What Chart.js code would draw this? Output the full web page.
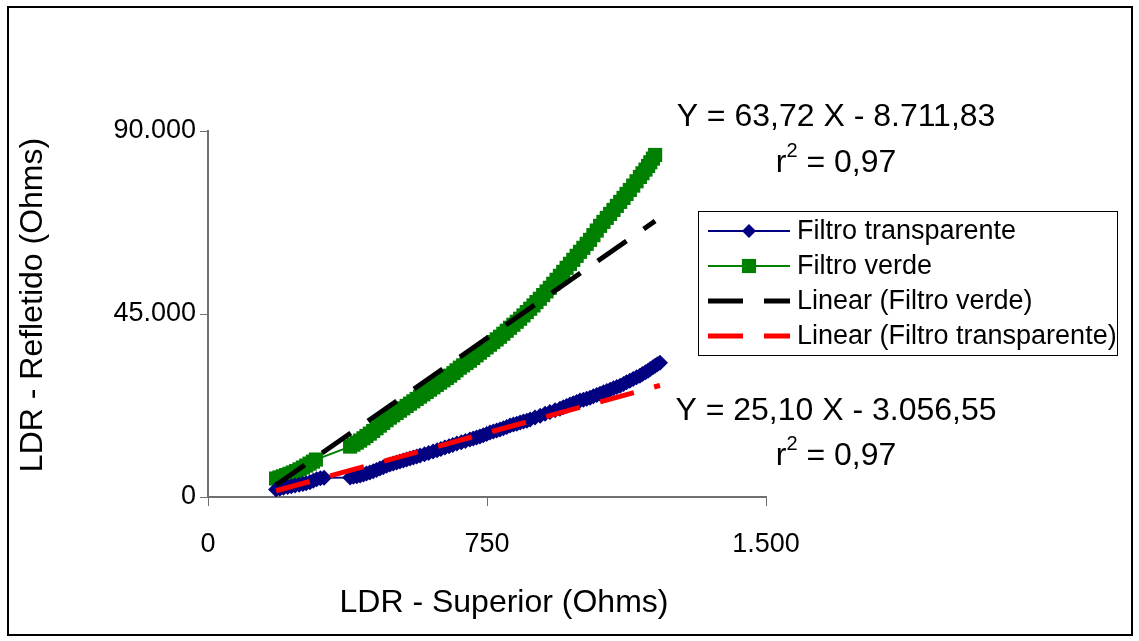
<!DOCTYPE html>
<html>
<head>
<meta charset="utf-8">
<script src="https://cdn.jsdelivr.net/npm/chart.js@4.4.1/dist/chart.umd.min.js"></script>
<style>
    html, body { margin: 0; padding: 0; background: #ffffff; }
    canvas { display: block; }
</style>
</head>
<body>
<canvas id="ldrChart" width="1139" height="641"></canvas>
<script>
// LDR - Superior (Ohms) / LDR - Refletido (Ohms)
var transpX = [183, 193, 203, 214, 224, 234, 245, 255, 264, 274, 283, 292, 302, 312,
    382, 391, 400, 409, 418, 426, 435, 444, 453, 462, 471, 480, 489, 498, 507, 516, 525, 534, 543,
    552, 561, 570, 582, 593, 605, 616, 626, 637, 648, 658, 669, 681, 692, 704, 713, 722, 731,
    740, 749, 758, 767, 776, 785, 794, 803, 812, 821, 830, 839, 848, 857, 866, 879, 893, 906,
    919, 933, 946, 955, 964, 973, 982, 991, 1000, 1009, 1018, 1027, 1036, 1045, 1054, 1063,
    1072, 1081, 1090, 1099, 1108, 1117, 1125, 1134, 1143, 1152, 1161, 1168, 1176, 1183, 1189,
    1196, 1202, 1208, 1215];
var transpY = [1840, 2050, 2250, 2450, 2640, 2820, 3020, 3210, 3400, 3650, 3980, 4350, 4600, 4760,
    4790, 4950, 5120, 5300, 5530, 5760, 6020, 6330, 6660, 7000, 7330, 7660, 7980, 8240, 8480, 8720, 8960, 9210, 9450,
    9700, 9940, 10190, 10530, 10840, 11170, 11510, 11830, 12160, 12490, 12810, 13140, 13470, 13800, 14120, 14370, 14610, 14860,
    15190, 15510, 15840, 16090, 16330, 16580, 16910, 17240, 17560, 17800, 18040, 18290, 18540, 18780, 19030, 19520, 20010, 20500,
    20910, 21320, 21730, 22060, 22390, 22720, 23050, 23380, 23700, 23940, 24190, 24430, 24760, 25090, 25420, 25750,
    26070, 26400, 26730, 27060, 27380, 27790, 28200, 28610, 29020, 29430, 29840, 30250, 30650, 31060, 31470,
    31880, 32290, 32660, 33030];

var verdeX = [183, 192, 201, 210, 219, 228, 237, 246, 255, 264, 273, 282, 290,
    382, 391, 400, 409, 418, 426, 435, 444, 453, 462, 471, 480, 489, 498, 507, 516, 525, 534, 543,
    552, 561, 570, 579, 588, 597, 606, 615, 624, 633, 642, 651, 660, 668, 677, 686, 695, 704,
    713, 722, 731, 740, 749, 758, 767, 776, 785, 794, 803, 812, 821, 830, 839, 848, 857, 866,
    875, 883, 892, 901, 910, 919, 928, 937, 946, 955, 964, 973, 982, 991, 1000, 1009, 1018, 1027,
    1036, 1045, 1054, 1063, 1072, 1081, 1090, 1099, 1108, 1117, 1125, 1134, 1143, 1152, 1161,
    1168, 1176, 1183, 1189, 1196, 1202];
var verdeY = [4540, 4800, 5080, 5380, 5700, 6030, 6380, 6800, 7250, 7720, 8200, 8700, 9210,
    12400, 12870, 13370, 13870, 14440, 15010, 15590, 16240, 16900, 17560, 18210, 18870, 19520, 20090, 20670, 21240, 21810, 22390, 22960,
    23530, 24110, 24680, 25250, 25830, 26400, 26970, 27550, 28120, 28690, 29270, 29840, 30490, 31150, 31800, 32370, 32950, 33520,
    34180, 34830, 35490, 36140, 36800, 37450, 38100, 38760, 39410, 40150, 40880, 41620, 42360, 43090, 43830, 44650, 45470, 46290,
    47110, 47930, 48750, 49650, 50550, 51450, 52430, 53410, 54390, 55370, 56360, 57340, 58320, 59310, 60290, 61270, 62250, 63230,
    64380, 65520, 66670, 67650, 68640, 69620, 70600, 71590, 72570, 73550, 74530, 75510, 76570, 77640, 78700,
    79600, 80510, 81410, 82310, 83210, 84110];

var xTicks = [0, 750, 1500];
var yTicks = [0, 45000, 90000];

// linear trendlines as printed on the chart
var trendVerde = [63.72, -8711.83, 0.97];
var trendTransp = [25.10, -3056.55, 0.97];

var xTitle = 'LDR - Superior (Ohms)';
var yTitle = 'LDR - Refletido (Ohms)';

var fontFamily = '"Liberation Sans", Arial, sans-serif';

function toPoints(xs, ys) {
    return xs.map(function (x, i) { return { x: x, y: ys[i] }; });
}

function trendPoints(xs, coef) {
    var x0 = Math.min.apply(null, xs);
    var x1 = Math.max.apply(null, xs);
    return [{ x: x0, y: coef[0] * x0 + coef[1] }, { x: x1, y: coef[0] * x1 + coef[1] }];
}

// 1234567.8 -> "1.234.567,80"
function fmtBR(v, dec) {
    var parts = Math.abs(v).toFixed(dec).split('.');
    var s = parts[0].replace(/\B(?=(\d{3})+(?!\d))/g, '.');
    if (parts[1]) s += ',' + parts[1];
    return s;
}

function eqText(coef) {
    return 'Y = ' + fmtBR(coef[0], 2) + ' X ' + (coef[1] < 0 ? '-' : '+') + ' ' + fmtBR(coef[1], 2);
}

function drawR2(c, r2, cx, cy) {
    var big = '32px ' + fontFamily;
    var small = '20px ' + fontFamily;
    var rest = ' = ' + fmtBR(r2, 2);
    c.font = big;
    var wr = c.measureText('r').width;
    var wrest = c.measureText(rest).width;
    c.font = small;
    var w2 = c.measureText('2').width;
    var x = cx - (wr + w2 + wrest) / 2;
    c.textAlign = 'left';
    c.textBaseline = 'middle';
    c.font = big;
    c.fillText('r', x, cy);
    c.font = small;
    c.fillText('2', x + wr, cy - 12);
    c.font = big;
    c.fillText(rest, x + wr + w2, cy);
}

function drawMarker(c, style, r, x, y) {
    c.beginPath();
    if (style === 'rectRot') {
        c.moveTo(x - r, y);
        c.lineTo(x, y - r);
        c.lineTo(x + r, y);
        c.lineTo(x, y + r);
        c.closePath();
    } else {
        var h = r * Math.SQRT1_2;
        c.rect(x - h, y - h, 2 * h, 2 * h);
    }
    c.fill();
}

var framePlugin = {
    id: 'frame',
    beforeDraw: function (chart) {
        var c = chart.ctx;
        c.save();
        c.fillStyle = '#ffffff';
        c.fillRect(0, 0, chart.width, chart.height);
        c.strokeStyle = '#000000';
        c.lineWidth = 2;
        c.strokeRect(8, 7, 1124, 628);
        c.restore();
    }
};

// axis titles, placed where Excel put them
var titlePlugin = {
    id: 'axisTitles',
    afterDraw: function (chart) {
        var c = chart.ctx;
        c.save();
        c.fillStyle = '#000000';
        c.font = '32px ' + fontFamily;
        c.textAlign = 'center';
        c.textBaseline = 'middle';
        c.fillText(xTitle, 504, 603);
        c.translate(33, 305);
        c.rotate(-Math.PI / 2);
        c.fillText(yTitle, 0, 0);
        c.restore();
    }
};

var annotationPlugin = {
    id: 'annotations',
    afterDraw: function (chart) {
        var c = chart.ctx;
        c.save();
        c.fillStyle = '#000000';
        c.font = '32px ' + fontFamily;
        c.textAlign = 'center';
        c.textBaseline = 'middle';
        c.fillText(eqText(trendVerde), 836, 117);
        drawR2(c, trendVerde[2], 836, 163);
        c.font = '32px ' + fontFamily;
        c.textAlign = 'center';
        c.fillText(eqText(trendTransp), 836, 411);
        drawR2(c, trendTransp[2], 836, 456);
        c.restore();
    }
};

var legendPlugin = {
    id: 'legendBox',
    afterDraw: function (chart) {
        var c = chart.ctx;
        var box = { x: 698.5, y: 211.5, w: 419, h: 144 };
        var rows = [231, 266, 301, 336];
        c.save();
        c.fillStyle = '#ffffff';
        c.fillRect(box.x, box.y, box.w, box.h);
        c.strokeStyle = '#000000';
        c.lineWidth = 1;
        c.strokeRect(box.x, box.y, box.w, box.h);
        chart.data.datasets.forEach(function (ds, i) {
            var y = rows[i];
            c.strokeStyle = ds.borderColor;
            c.lineWidth = ds.borderDash ? ds.borderWidth : 2;
            c.setLineDash(ds.borderDash || []);
            c.beginPath();
            c.moveTo(708, y);
            c.lineTo(790, y);
            c.stroke();
            c.setLineDash([]);
            if (ds.pointRadius > 0) {
                c.fillStyle = ds.backgroundColor;
                drawMarker(c, ds.pointStyle, ds.pointStyle === 'rectRot' ? 7 : ds.pointRadius, 749, y);
            }
            c.fillStyle = '#000000';
            c.font = '27px ' + fontFamily;
            c.textAlign = 'left';
            c.textBaseline = 'middle';
            c.fillText(ds.label, 797, y + 1);
        });
        c.restore();
    }
};

var ctx = document.getElementById('ldrChart');

var myChart = new Chart(ctx, {
    type: 'scatter',
    data: {
        datasets: [{
            label: 'Filtro transparente',
            data: toPoints(transpX, transpY),
            showLine: true,
            borderColor: '#000080',
            backgroundColor: '#000080',
            borderWidth: 2,
            pointStyle: 'rectRot',
            pointRadius: 8,
            pointBorderWidth: 0,
            order: 2
        }, {
            label: 'Filtro verde',
            data: toPoints(verdeX, verdeY),
            showLine: true,
            borderColor: '#008000',
            backgroundColor: '#008000',
            borderWidth: 2,
            pointStyle: 'rect',
            pointRadius: 10,
            pointBorderWidth: 0,
            order: 3
        }, {
            label: 'Linear (Filtro verde)',
            data: trendPoints(verdeX, trendVerde),
            showLine: true,
            borderColor: '#000000',
            backgroundColor: '#000000',
            borderWidth: 5,
            borderDash: [35, 21],
            pointRadius: 0,
            order: 1
        }, {
            label: 'Linear (Filtro transparente)',
            data: trendPoints(transpX, trendTransp),
            showLine: true,
            borderColor: '#ff0000',
            backgroundColor: '#ff0000',
            borderWidth: 5,
            borderDash: [35, 21],
            pointRadius: 0,
            order: 0
        }]
    },
    options: {
        responsive: false,
        animation: false,
        events: [],
        layout: { padding: { top: 131, right: 373, left: 0, bottom: 0 } },
        plugins: {
            legend: { display: false },
            tooltip: { enabled: false }
        },
        scales: {
            x: {
                type: 'linear',
                min: 0,
                max: 1500,
                afterBuildTicks: function (scale) {
                    scale.ticks = xTicks.map(function (v) { return { value: v }; });
                },
                afterFit: function (scale) { scale.height = 144; },
                grid: { drawOnChartArea: false, drawTicks: true, tickLength: 9, tickWidth: 1, tickColor: '#707070' },
                border: { display: true, color: '#707070', width: 2 },
                ticks: {
                    color: '#000000',
                    font: { family: fontFamily, size: 27 },
                    padding: 22,
                    maxRotation: 0,
                    autoSkip: false,
                    callback: function (v) { return fmtBR(v, 0); }
                }
            },
            y: {
                type: 'linear',
                min: 0,
                max: 90000,
                afterBuildTicks: function (scale) {
                    scale.ticks = yTicks.map(function (v) { return { value: v }; });
                },
                afterFit: function (scale) { scale.width = 208; },
                grid: { drawOnChartArea: false, drawTicks: true, tickLength: 8, tickWidth: 1, tickColor: '#707070' },
                border: { display: true, color: '#707070', width: 2 },
                ticks: {
                    color: '#000000',
                    font: { family: fontFamily, size: 27 },
                    padding: 4,
                    autoSkip: false,
                    callback: function (v) { return fmtBR(v, 0); }
                }
            }
        }
    },
    plugins: [framePlugin, titlePlugin, annotationPlugin, legendPlugin]
});
</script>
</body>
</html>
